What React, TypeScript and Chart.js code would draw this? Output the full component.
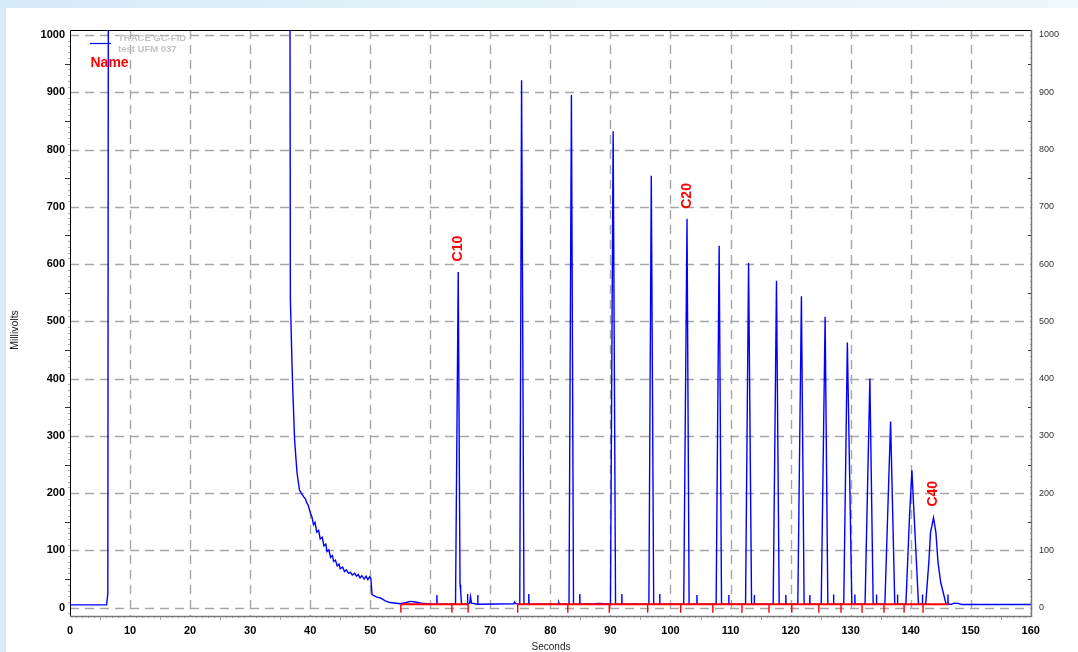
import React, { useEffect, useRef } from "react";
import { Chart, registerables } from "chart.js";

Chart.register(...registerables);

const FONT = '"Liberation Sans", Arial, Helvetica, sans-serif';

// Axis ticks
const xTickValues = [0, 10, 20, 30, 40, 50, 60, 70, 80, 90, 100, 110, 120, 130, 140, 150, 160];
const yTickValues = [0, 100, 200, 300, 400, 500, 600, 700, 800, 900, 1000];

// Baseline level of the detector (mV)
const baseLevel = 6;

// Solvent front and its decay (seconds / millivolts)
const solventTimes = [0, 6.1, 6.3, 6.4, 36.6, 36.7, 36.95, 37.1, 37.4, 37.8, 38.2, 38.5, 38.9, 39.2, 39.45, 39.7, 40.0, 40.3, 40.55, 40.8, 41.1, 41.4, 41.67, 42.0, 42.3, 42.6, 42.8, 43.1, 43.4, 43.7, 43.9, 44.2, 44.5, 44.8, 45.0, 45.4, 45.7, 46.0, 46.4, 46.7, 47.0, 47.4, 47.7, 48.0, 48.3, 48.6, 49.0, 49.3, 49.6, 49.9, 50.1, 50.3, 51.0, 51.7, 52.5, 53.3, 55.0, 56.0, 56.7, 57.5, 58.5, 60.0];
const solventValues = [5, 5, 25, 1300, 1300, 537, 433, 380, 293, 236, 206, 200, 194, 190, 183, 178, 166, 158, 145, 149, 132, 135, 120, 123, 108, 111, 98, 101, 88, 91, 81, 83, 73, 76, 68, 71, 63, 66, 60, 62, 57, 60, 55, 58, 52, 56, 50, 55, 49, 54, 51, 23, 19, 17, 12, 9, 7, 9, 11, 10, 8, 6.5];

// Main peaks (n-alkanes)
const peakStarts = [64.2, 74.9, 83.1, 90.0, 96.4, 102.2, 107.6, 112.5, 117.1, 121.2, 125.1, 128.85, 132.4, 135.7, 139.2, 142.5];
const peakApexes = [64.65, 75.2, 83.5, 90.45, 96.8, 102.75, 108.1, 113.0, 117.65, 121.8, 125.75, 129.45, 133.2, 136.65, 140.2, 143.8];
const peakEnds = [65.2, 75.6, 83.85, 90.85, 97.2, 103.1, 108.5, 113.5, 118.1, 122.25, 126.2, 130.2, 133.75, 137.35, 141.3, 145.9];
const peakHeights = [586, 921, 895, 832, 754, 679, 632, 602, 571, 544, 508, 463, 400, 325, 240, 157];

// Peak shape details (tails, shoulders)
const shapeTimes = [64.95, 65.05, 139.8, 143.05, 143.3, 144.2, 144.55, 145.0];
const shapeValues = [40, 30, 159, 84, 131, 131, 79, 44];

// Small thin spikes between peaks
const spikeTimes = [61.1, 66.2, 67.9, 76.4, 84.9, 91.9, 98.2, 104.4, 109.7, 113.95, 119.2, 123.2, 127.15, 130.7, 134.3, 137.8, 141.95, 146.2];
const spikeHeights = [22, 24, 22, 24, 24, 24, 24, 22, 22, 22, 22, 22, 23, 23, 23, 23, 23, 23];

// Small bumps and the tail of the run
const bumpTimes = [66.55, 66.7, 66.85, 73.9, 74.05, 74.2, 81.3, 81.4, 81.5, 87.5, 88.2, 88.9, 146.8, 147.2, 147.8, 148.5, 160];
const bumpValues = [8, 19, 8, 7, 10, 7, 6, 9, 6, 7, 7.5, 7, 6, 8, 7.5, 5.5, 5.5];

// Integration baseline (red) segments and peak delimiters
const redSegmentStarts = [55.1, 74.55];
const redSegmentEnds = [66.3, 146.3];
const redTickTimes = [55.1, 63.6, 66.3, 74.55, 82.9, 89.8, 96.2, 101.7, 107.05, 111.9, 116.4, 120.2, 124.7, 128.4, 131.9, 135.55, 138.9, 142.05];
const redTickBottom = -9;

// Peak name labels
const labelNames = ["C10", "C20", "C40"];
const labelTimes = [64.6, 102.7, 143.75];
const labelValues = [627, 719, 199];

type Pt = { x: number; y: number | null };

function buildTrace(): Pt[] {
  const pts: Pt[] = [];
  solventTimes.forEach((t, i) => pts.push({ x: t, y: solventValues[i] }));
  peakApexes.forEach((t, i) => {
    pts.push({ x: peakStarts[i], y: baseLevel });
    pts.push({ x: t, y: peakHeights[i] });
    pts.push({ x: peakEnds[i], y: baseLevel });
  });
  shapeTimes.forEach((t, i) => pts.push({ x: t, y: shapeValues[i] }));
  spikeTimes.forEach((t, i) => {
    pts.push({ x: t - 0.04, y: baseLevel });
    pts.push({ x: t, y: spikeHeights[i] });
    pts.push({ x: t + 0.04, y: baseLevel });
  });
  bumpTimes.forEach((t, i) => pts.push({ x: t, y: bumpValues[i] }));
  pts.sort((a, b) => a.x - b.x);
  return pts;
}

function buildRedBaseline(): Pt[] {
  const pts: Pt[] = [];
  redSegmentStarts.forEach((s, i) => {
    pts.push({ x: s, y: baseLevel });
    pts.push({ x: redSegmentEnds[i], y: baseLevel });
    pts.push({ x: redSegmentEnds[i], y: null });
  });
  return pts;
}

function buildRedTicks(): Pt[] {
  const pts: Pt[] = [];
  redTickTimes.forEach((t) => {
    pts.push({ x: t, y: baseLevel });
    pts.push({ x: t, y: redTickBottom });
    pts.push({ x: t, y: null });
  });
  return pts;
}

const decorPlugin = {
  id: "decor",
  beforeDatasetsDraw(chart: any) {
    const { ctx, chartArea: a, scales } = chart;
    const xs = scales.x;
    const ys = scales.y;
    ctx.save();
    // dashed grid
    ctx.strokeStyle = "#a6a6a6";
    ctx.lineWidth = 1.4;
    ctx.setLineDash([9, 6]);
    xTickValues.forEach((v) => {
      if (v <= 0 || v >= 160) return;
      const px = Math.round(xs.getPixelForValue(v)) + 0.5;
      ctx.beginPath();
      ctx.moveTo(px, a.top);
      ctx.lineTo(px, a.bottom);
      ctx.stroke();
    });
    yTickValues.forEach((v) => {
      const py = Math.round(ys.getPixelForValue(v)) + 0.5;
      ctx.beginPath();
      ctx.moveTo(a.left, py);
      ctx.lineTo(a.right, py);
      ctx.stroke();
    });
    ctx.setLineDash([]);

    // minor ticks
    ctx.lineWidth = 1;
    for (let v = -10; v <= 1000; v += 10) {
      if (v % 100 === 0) continue;
      const py = Math.round(ys.getPixelForValue(v)) + 0.5;
      const half = v % 50 === 0;
      ctx.strokeStyle = half ? "#333" : "#aaa";
      ctx.beginPath();
      ctx.moveTo(a.left, py);
      ctx.lineTo(a.left - (half ? 5 : 2), py);
      ctx.stroke();
      ctx.beginPath();
      ctx.moveTo(a.right, py);
      ctx.lineTo(a.right - (half ? 4 : 2), py);
      ctx.stroke();
    }
    for (let t = 1; t < 160; t += 1) {
      if (t % 10 === 0) continue;
      const px = Math.round(xs.getPixelForValue(t)) + 0.5;
      ctx.strokeStyle = "#aaa";
      ctx.beginPath();
      ctx.moveTo(px, a.bottom);
      ctx.lineTo(px, a.bottom + (t % 5 === 0 ? 4 : 2));
      ctx.stroke();
    }

    // frame
    ctx.lineWidth = 1;
    ctx.strokeStyle = "#000";
    ctx.beginPath();
    ctx.moveTo(a.left + 0.5, a.bottom);
    ctx.lineTo(a.left + 0.5, a.top + 0.5);
    ctx.lineTo(a.right, a.top + 0.5);
    ctx.stroke();
    ctx.strokeStyle = "#777";
    ctx.lineWidth = 1.5;
    ctx.beginPath();
    ctx.moveTo(a.right - 0.5, a.top);
    ctx.lineTo(a.right - 0.5, a.bottom + 0.5);
    ctx.lineTo(a.left, a.bottom + 0.5);
    ctx.stroke();
    ctx.restore();
  },
  afterDatasetsDraw(chart: any) {
    const { ctx, chartArea: a, scales } = chart;
    const xs = scales.x;
    const ys = scales.y;
    ctx.save();
    // legend
    ctx.strokeStyle = "#0000ff";
    ctx.lineWidth = 1.2;
    ctx.beginPath();
    ctx.moveTo(90, 43.5);
    ctx.lineTo(111, 43.5);
    ctx.stroke();
    ctx.fillStyle = "#c2c2c2";
    ctx.font = `bold 9.5px ${FONT}`;
    ctx.textAlign = "left";
    ctx.textBaseline = "middle";
    ctx.fillText("TRACE GC-FID", 118, 38);
    ctx.fillText("test UFM 037", 118, 49.5);
    ctx.fillStyle = "#ff0000";
    ctx.font = `bold 14px ${FONT}`;
    ctx.fillText("Name", 90.5, 63.5);

    // peak labels
    ctx.font = `bold 14px ${FONT}`;
    ctx.textAlign = "center";
    labelNames.forEach((name, i) => {
      const px = xs.getPixelForValue(labelTimes[i]);
      const py = ys.getPixelForValue(labelValues[i]);
      ctx.save();
      ctx.translate(px, py);
      ctx.rotate(-Math.PI / 2);
      ctx.fillText(name, 0, 0);
      ctx.restore();
    });

    // axis titles
    ctx.fillStyle = "#222";
    ctx.font = `10px ${FONT}`;
    ctx.textAlign = "center";
    ctx.fillText("Seconds", (a.left + a.right) / 2, 647);
    ctx.save();
    ctx.translate(15, 330);
    ctx.rotate(-Math.PI / 2);
    ctx.font = `10.5px ${FONT}`;
    ctx.fillText("Millivolts", 0, 0);
    ctx.restore();
    ctx.restore();
  },
};

export default function App() {
  const ref = useRef<HTMLCanvasElement>(null);

  useEffect(() => {
    if (!ref.current) return;
    const yMin = -14.5;
    const yMax = 1008.7;
    const plainLabel = (v: any) => `${v}`;
    const chart = new Chart(ref.current, {
      type: "line",
      data: {
        datasets: [
          {
            label: "ticks",
            data: buildRedTicks() as any,
            borderColor: "#ff0000",
            borderWidth: 1.4,
            pointRadius: 0,
            spanGaps: false,
            tension: 0,
            order: 0,
          },
          {
            label: "baseline",
            data: buildRedBaseline() as any,
            borderColor: "#ff0000",
            borderWidth: 2,
            pointRadius: 0,
            spanGaps: false,
            tension: 0,
            order: 1,
          },
          {
            label: "TRACE GC-FID",
            data: buildTrace() as any,
            borderColor: "#0000ff",
            borderWidth: 1.4,
            pointRadius: 0,
            tension: 0,
            order: 2,
          },
        ],
      },
      options: {
        responsive: false,
        animation: false,
        events: [],
        layout: { padding: { top: 30, left: 0, right: 0, bottom: 0 } },
        plugins: {
          legend: { display: false },
          tooltip: { enabled: false },
          title: { display: false },
        },
        scales: {
          x: {
            type: "linear",
            min: 0,
            max: 160.2,
            afterBuildTicks: (s: any) => {
              s.ticks = xTickValues.map((v) => ({ value: v }));
            },
            afterFit: (s: any) => {
              s.height = 36;
            },
            grid: { display: false, drawTicks: false },
            border: { display: false },
            ticks: {
              font: { family: FONT, size: 11, weight: "bold" },
              color: "#000",
              padding: 8,
              maxRotation: 0,
              autoSkip: false,
              callback: plainLabel,
            },
          },
          y: {
            type: "linear",
            position: "left",
            min: yMin,
            max: yMax,
            afterBuildTicks: (s: any) => {
              s.ticks = yTickValues.map((v) => ({ value: v }));
            },
            afterFit: (s: any) => {
              s.width = 70;
            },
            grid: { display: false, drawTicks: false },
            border: { display: false },
            ticks: {
              font: { family: FONT, size: 11, weight: "bold" },
              color: "#000",
              padding: 5,
              autoSkip: false,
              callback: plainLabel,
            },
          },
          y2: {
            type: "linear",
            position: "right",
            min: yMin,
            max: yMax,
            afterBuildTicks: (s: any) => {
              s.ticks = yTickValues.map((v) => ({ value: v }));
            },
            afterFit: (s: any) => {
              s.width = 46;
            },
            grid: { display: false, drawTicks: false },
            border: { display: false },
            ticks: {
              font: { family: FONT, size: 9 },
              color: "#333",
              padding: 7,
              autoSkip: false,
              callback: plainLabel,
            },
          },
        },
      } as any,
      plugins: [decorPlugin],
    });
    return () => chart.destroy();
  }, []);

  return (
    <div
      style={{
        position: "fixed",
        left: 0,
        top: 0,
        width: 1078,
        height: 652,
        overflow: "hidden",
        background: "linear-gradient(90deg, #d5ebf7 0%, #e4f2fa 45%, #eef7fc 100%)",
      }}
    >
      <div style={{ position: "absolute", left: 6, top: 8, right: 0, bottom: 0, background: "#ffffff" }} />
      <canvas ref={ref} width={1078} height={652} style={{ position: "absolute", left: 0, top: 0 }} />
    </div>
  );
}
